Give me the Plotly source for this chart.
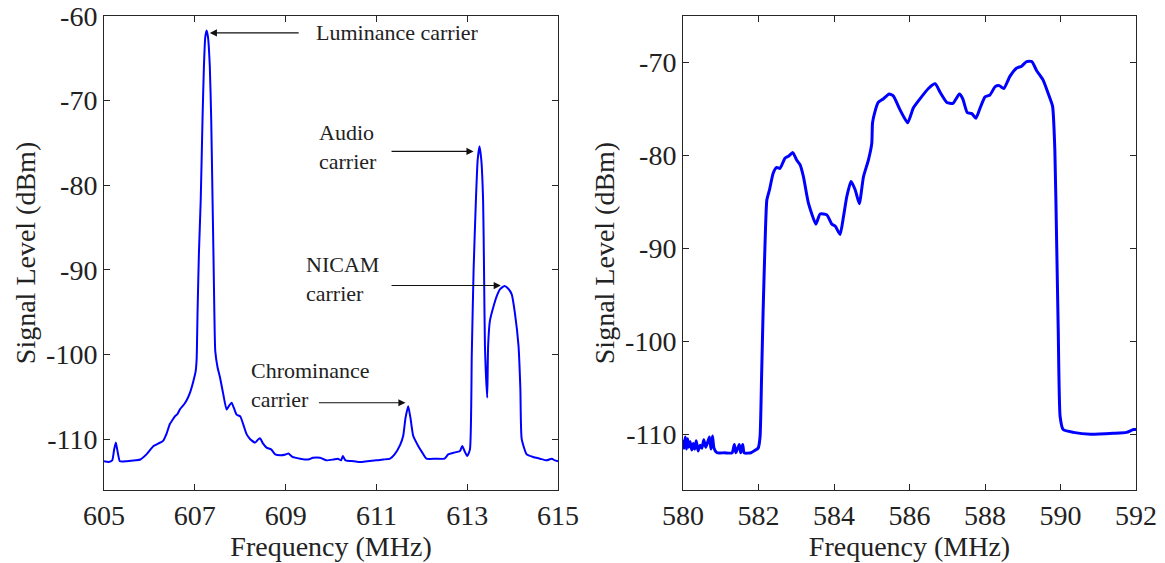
import plotly.graph_objects as go

# ---- Left panel: analogue TV channel spectrum ----
freq_tv = [605.00, 605.10, 605.18, 605.22, 605.26, 605.30, 605.35, 605.50, 605.70, 605.80,
           605.95, 606.09, 606.20, 606.30, 606.38, 606.45, 606.50, 606.56, 606.62, 606.68,
           606.76, 606.82, 606.90, 606.97, 607.02, 607.04, 607.06, 607.09, 607.13, 607.17,
           607.20, 607.23, 607.26, 607.29, 607.33, 607.36, 607.39, 607.41, 607.43, 607.45,
           607.50, 607.55, 607.62, 607.70, 607.76, 607.81, 607.86, 607.92, 608.00, 608.07,
           608.14, 608.22, 608.33, 608.40, 608.44, 608.50, 608.58, 608.68, 608.77, 608.90,
           609.00, 609.06, 609.15, 609.32, 609.50, 609.60, 609.76, 609.90, 610.05, 610.15,
           610.22, 610.26, 610.32, 610.50, 610.64, 610.80, 611.00, 611.15, 611.30, 611.40,
           611.52, 611.59, 611.64, 611.70, 611.75, 611.81, 611.92, 612.00, 612.10, 612.30,
           612.50, 612.58, 612.70, 612.84, 612.89, 612.94, 613.00, 613.06, 613.10, 613.14,
           613.19, 613.23, 613.27, 613.31, 613.35, 613.37, 613.39, 613.44, 613.46, 613.50,
           613.58, 613.65, 613.72, 613.82, 613.90, 613.98, 614.05, 614.13, 614.17, 614.20,
           614.31, 614.45, 614.60, 614.75, 614.86, 614.93, 615.00]
level_tv = [-112.6, -112.7, -112.5, -111.3, -110.4, -111.5, -112.6, -112.6, -112.5, -112.4,
            -111.7, -110.8, -110.5, -110.2, -109.3, -108.2, -107.8, -107.3, -107.0, -106.4,
            -105.9, -105.4, -104.4, -103.1, -101.9, -100.5, -95.0, -88.0, -81.7, -72.0,
            -66.0, -62.5, -61.7, -62.5, -66.0, -72.0, -81.7, -88.0, -95.0, -99.6,
            -101.5, -102.6, -104.5, -106.5, -106.0, -105.7, -106.3, -107.1, -107.3, -108.3,
            -109.4, -110.0, -110.4, -110.0, -109.9, -110.5, -111.0, -111.2, -111.8, -111.9,
            -111.8, -111.7, -112.1, -112.3, -112.4, -112.2, -112.2, -112.5, -112.4, -112.3,
            -112.5, -112.0, -112.5, -112.6, -112.7, -112.6, -112.5, -112.4, -112.3, -111.8,
            -110.7, -109.6, -107.5, -106.1, -107.5, -109.6, -110.8, -111.5, -112.3, -112.3,
            -112.3, -111.8, -111.6, -111.4, -110.8, -111.4, -112.0, -111.2, -100.0, -90.0,
            -81.9, -77.0, -75.4, -77.0, -81.9, -90.0, -99.0, -105.1, -99.0, -96.0,
            -94.3, -93.1, -92.3, -91.9, -92.2, -92.9, -95.1, -99.0, -104.0, -110.0,
            -111.8, -112.1, -112.3, -112.5, -112.3, -112.5, -112.6]

# ---- Right panel: digital channel spectrum ----
freq_dig = [580.00, 580.03, 580.06, 580.09, 580.12, 580.15, 580.19, 580.23, 580.27, 580.31,
            580.35, 580.40, 580.45, 580.50, 580.55, 580.60, 580.65, 580.70, 580.74, 580.78,
            580.82, 580.90, 581.10, 581.30, 581.36, 581.40, 581.49, 581.53, 581.58, 581.62,
            581.80, 581.92, 581.99, 582.04, 582.08, 582.12, 582.17, 582.22, 582.29, 582.39,
            582.48, 582.57, 582.70, 582.79, 582.91, 583.01, 583.10, 583.19, 583.32, 583.52,
            583.63, 583.81, 583.94, 584.03, 584.16, 584.25, 584.34, 584.45, 584.56, 584.67,
            584.78, 584.91, 585.00, 585.02, 585.09, 585.17, 585.31, 585.46, 585.57, 585.75,
            585.95, 586.10, 586.28, 586.50, 586.68, 586.81, 586.99, 587.15, 587.32, 587.41,
            587.53, 587.65, 587.76, 587.87, 588.00, 588.13, 588.27, 588.38, 588.50, 588.66,
            588.84, 588.97, 589.10, 589.24, 589.37, 589.54, 589.68, 589.79, 589.85, 589.90,
            589.94, 589.99, 590.07, 590.34, 590.80, 591.40, 591.75, 591.93, 592.00]
level_dig = [-110.6, -111.5, -110.3, -111.6, -110.5, -111.4, -110.8, -111.7, -111.0, -111.6,
             -110.7, -111.8, -111.2, -111.5, -110.6, -111.4, -110.9, -110.3, -111.6, -110.2,
             -111.5, -112.0, -112.0, -112.0, -111.1, -112.0, -111.1, -112.0, -111.1, -112.0,
             -112.0, -111.7, -111.5, -110.3, -104.0, -97.0, -89.8, -84.8, -83.7, -81.9,
             -81.3, -81.4, -80.3, -80.1, -79.7, -80.5, -81.0, -82.3, -85.1, -87.4,
             -86.3, -86.4, -87.4, -87.6, -88.5, -86.6, -84.4, -82.8, -83.7, -85.2,
             -82.3, -80.5, -78.7, -76.5, -75.2, -74.3, -73.9, -73.4, -73.6, -75.1,
             -76.5, -74.9, -73.9, -72.8, -72.3, -73.2, -74.3, -74.4, -73.4, -73.9,
             -75.4, -75.5, -76.0, -74.9, -73.7, -73.5, -72.6, -72.5, -72.8, -71.5,
             -70.6, -70.4, -69.9, -69.9, -70.9, -71.9, -73.4, -74.7, -79.4, -89.8,
             -98.8, -108.1, -109.5, -109.8, -110.0, -109.9, -109.8, -109.5, -109.5]

x_ticks_tv = [605, 607, 609, 611, 613, 615]
x_ticks_dig = [580, 582, 584, 586, 588, 590, 592]
y_ticks_tv = [-110, -100, -90, -80, -70, -60]
y_ticks_dig = [-110, -100, -90, -80, -70]

SERIF = "Liberation Serif, DejaVu Serif, serif"
AXCOL = "#262626"
TXT = "#222222"

fig = go.Figure()
fig.add_trace(go.Scatter(x=freq_tv, y=level_tv, mode="lines",
                         line=dict(color="#0000ff", width=2, shape="spline", smoothing=0.5),
                         xaxis="x", yaxis="y", showlegend=False))
fig.add_trace(go.Scatter(x=freq_dig, y=level_dig, mode="lines",
                         line=dict(color="#0000ff", width=3, shape="spline", smoothing=0.5),
                         xaxis="x2", yaxis="y2", showlegend=False))

axis_common = dict(showline=True, linecolor=AXCOL, linewidth=1, mirror="ticks",
                   ticks="inside", ticklen=6, tickcolor=AXCOL, showgrid=False, zeroline=False,
                   automargin=False,
                   tickfont=dict(family=SERIF, size=28, color=TXT))
title_font = dict(family=SERIF, size=28, color=TXT)

fig.update_layout(
    width=1165, height=563,
    margin=dict(l=0, r=0, t=0, b=0),
    paper_bgcolor="white", plot_bgcolor="white",
    font=dict(family=SERIF, color=TXT),
    xaxis=dict(domain=[0.0893, 0.479], range=[605, 615], tickvals=x_ticks_tv,
               title=dict(text="Frequency (MHz)", font=title_font, standoff=2),
               anchor="y", **axis_common),
    yaxis=dict(domain=[0.1297, 0.9716], range=[-116, -60], tickvals=y_ticks_tv,
               ticktext=[f"-{abs(v)}" for v in y_ticks_tv],
               title=dict(text="Signal Level (dBm)", font=title_font, standoff=2),
               anchor="x", **axis_common),
    xaxis2=dict(domain=[0.5863, 0.9751], range=[580, 592], tickvals=x_ticks_dig,
                title=dict(text="Frequency (MHz)", font=title_font, standoff=2),
                anchor="y2", **axis_common),
    yaxis2=dict(domain=[0.1297, 0.9716], range=[-116, -65], tickvals=y_ticks_dig,
                ticktext=[f"-{abs(v)}" for v in y_ticks_dig],
                title=dict(text="Signal Level (dBm)", font=title_font, standoff=2),
                anchor="x2", **axis_common),
)

# Carrier labels with arrows (left panel)
labels = [
    # text, text x, text y, arrow head (x, y), arrow tail (x, y)
    ("Luminance carrier", 609.62, -62.0, (607.33, -62.0), (609.32, -62.0)),
    ("Audio<br>carrier", 609.68, -75.5, (613.14, -76.0), (611.30, -76.0)),
    ("NICAM<br>carrier", 609.40, -91.1, (613.74, -91.85), (611.30, -91.85)),
    ("Chrominance<br>carrier", 608.20, -103.6, (611.64, -105.7), (609.70, -105.7)),
]
for text, tx, ty, head, tail in labels:
    fig.add_annotation(x=tx, y=ty, xref="x", yref="y", text=text, showarrow=False,
                       xanchor="left", yanchor="middle", align="left",
                       font=dict(family=SERIF, size=22, color=TXT))
    fig.add_annotation(x=head[0], y=head[1], ax=tail[0], ay=tail[1],
                       xref="x", yref="y", axref="x", ayref="y", text="",
                       showarrow=True, arrowhead=2, arrowsize=1.3, arrowwidth=1.1,
                       arrowcolor="#111111", standoff=0, startstandoff=0)

fig.write_html("out.html")
